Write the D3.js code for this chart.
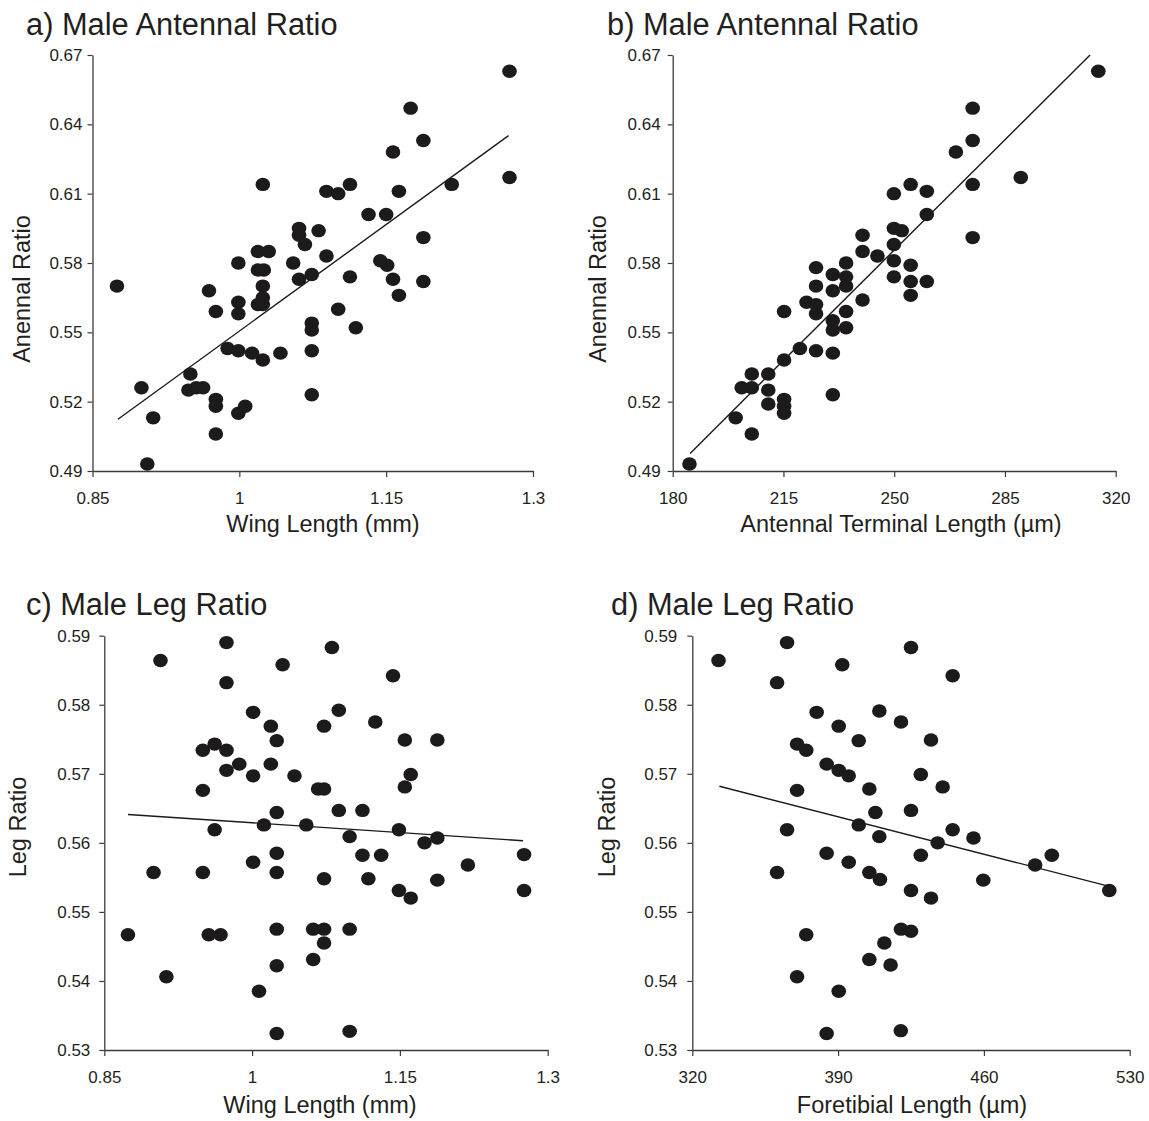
<!DOCTYPE html>
<html><head><meta charset="utf-8">
<script src="https://cdn.jsdelivr.net/npm/d3@7"></script>
<style>
body{margin:0;background:#fff}
svg{display:block}
text{font-family:"Liberation Sans",Arial,Helvetica,sans-serif;fill:#231f20}
.tick text{font-size:17px}
</style>
</head><body>
<svg id="chart" width="1149" height="1121"></svg>
<script>
// ---------- Data ----------
// Panel a: Wing length (mm) vs antennal ratio
const aWing = [0.875,0.900,0.912,0.906,0.950,0.948,0.956,0.963,0.969,0.976,0.976,0.976,0.976,0.988,0.999,0.999,0.999,0.999,0.999,1.006,1.013,1.024,1.019,1.030,1.019,1.025,1.024,1.024,1.019,1.024,1.024,1.042,1.055,1.061,1.061,1.067,1.061,1.074,1.081,1.074,1.074,1.074,1.074,1.276,1.175,1.188,1.157,1.276,1.217,1.113,1.089,1.101,1.163,1.132,1.150,1.089,1.188,1.144,1.151,1.113,1.157,1.188,1.163,1.101,1.119];
const aRatio = [0.570,0.526,0.513,0.493,0.532,0.525,0.526,0.526,0.568,0.559,0.521,0.518,0.506,0.543,0.580,0.563,0.558,0.542,0.515,0.518,0.541,0.614,0.585,0.585,0.577,0.577,0.570,0.565,0.562,0.562,0.538,0.541,0.580,0.595,0.592,0.588,0.573,0.575,0.594,0.554,0.551,0.542,0.523,0.663,0.647,0.633,0.628,0.617,0.614,0.614,0.611,0.610,0.611,0.601,0.601,0.583,0.591,0.581,0.579,0.574,0.573,0.572,0.566,0.560,0.552];
const aFitX = [0.876, 1.275];
const aFitY = [0.5124, 0.6351];

// Panel b: Antennal terminal length (µm) vs antennal ratio
const bTerminal = [185.3,199.9,205.0,201.8,205.0,205.0,210.2,210.2,210.2,215.2,215.2,215.2,215.2,215.2,220.2,222.3,225.3,225.3,225.3,225.3,225.3,230.6,230.6,230.6,230.6,230.6,230.6,234.8,234.8,234.8,234.8,234.8,240.0,240.0,240.0,244.7,249.9,249.9,252.4,249.9,249.9,249.9,255.2,255.2,255.2,255.2,260.3,260.3,260.3,269.5,274.8,274.8,274.8,274.8,290.0,314.5];
const bRatio = [0.493,0.513,0.506,0.526,0.526,0.532,0.532,0.525,0.519,0.521,0.518,0.515,0.538,0.559,0.543,0.563,0.578,0.570,0.562,0.558,0.542,0.575,0.568,0.555,0.551,0.541,0.523,0.580,0.574,0.570,0.559,0.552,0.592,0.585,0.564,0.583,0.610,0.595,0.594,0.588,0.581,0.574,0.614,0.579,0.572,0.566,0.611,0.601,0.572,0.628,0.647,0.633,0.614,0.591,0.617,0.663];
const bFitX = [185.5, 311.9];
const bFitY = [0.4976, 0.670];

// Panel c: Wing length (mm) vs leg ratio
const cWing = [0.874,0.907,0.900,0.913,0.950,0.950,0.950,0.956,0.962,0.962,0.968,0.974,0.974,0.974,0.974,0.987,1.001,1.001,1.001,1.007,1.019,1.019,1.025,1.025,1.012,1.025,1.025,1.025,1.025,1.025,1.031,1.043,1.055,1.062,1.062,1.081,1.143,1.088,1.073,1.125,1.155,1.188,1.161,1.155,1.067,1.073,1.088,1.112,1.099,1.149,1.175,1.188,1.112,1.131,1.276,1.219,1.073,1.118,1.188,1.149,1.161,1.276,1.073,1.099,1.073,1.099];
const cLeg = [0.5467,0.5864,0.5557,0.5406,0.5734,0.5676,0.5557,0.5467,0.5743,0.5619,0.5467,0.5890,0.5832,0.5734,0.5705,0.5714,0.5789,0.5697,0.5572,0.5385,0.5769,0.5714,0.5748,0.5644,0.5626,0.5585,0.5557,0.5475,0.5422,0.5324,0.5858,0.5697,0.5626,0.5475,0.5431,0.5883,0.5842,0.5792,0.5769,0.5775,0.5749,0.5749,0.5699,0.5681,0.5678,0.5678,0.5647,0.5647,0.5609,0.5619,0.5600,0.5607,0.5582,0.5582,0.5583,0.5568,0.5548,0.5548,0.5546,0.5531,0.5520,0.5531,0.5475,0.5475,0.5455,0.5327];
const cFitX = [0.874, 1.275];
const cFitY = [0.5641, 0.5603];

// Panel d: Foretibial length (µm) vs leg ratio
const dTibia = [332.6,365.5,360.7,392.0,379.7,409.8,390.3,399.9,370.3,374.7,384.5,390.3,395.1,370.3,405.0,407.9,399.9,365.5,409.8,384.5,395.1,360.7,405.0,410.1,374.7,370.3,390.3,384.5,405.0,412.2,415.2,425.0,445.0,420.2,434.6,429.7,440.2,425.0,445.0,437.8,455.0,429.7,492.6,484.6,459.7,425.0,434.6,520.2,420.2,425.0,420.1];
const dLeg = [0.5864,0.5890,0.5832,0.5858,0.5789,0.5791,0.5769,0.5748,0.5743,0.5734,0.5714,0.5705,0.5697,0.5676,0.5678,0.5644,0.5626,0.5619,0.5609,0.5585,0.5572,0.5557,0.5557,0.5547,0.5467,0.5406,0.5385,0.5324,0.5431,0.5455,0.5423,0.5883,0.5842,0.5775,0.5749,0.5699,0.5681,0.5647,0.5619,0.5600,0.5607,0.5582,0.5582,0.5568,0.5546,0.5531,0.5520,0.5531,0.5475,0.5472,0.5328];
const dFitX = [333.0, 520.2];
const dFitY = [0.5682, 0.5537];

// Tick labels
const wingTicks = ["0.85","1","1.15","1.3"];
const terminalTicks = ["180","215","250","285","320"];
const tibiaTicks = ["320","390","460","530"];
const antRatioTicks = ["0.49","0.52","0.55","0.58","0.61","0.64","0.67"];
const legRatioTicks = ["0.53","0.54","0.55","0.56","0.57","0.58","0.59"];

// ---------- Layout ----------
const panels = [
  {title:"a) Male Antennal Ratio", tx:26, ty:35, xs:aWing, ys:aRatio, fx:aFitX, fy:aFitY,
   xt:wingTicks, yt:antRatioTicks, L:92.5, R:533, T:55, B:471,
   xl:"Wing Length (mm)", xlx:323, xly:532, yl:"Anennal Ratio", ylx:30, yly:289, ypad:5},
  {title:"b) Male Antennal Ratio", tx:607, ty:35, xs:bTerminal, ys:bRatio, fx:bFitX, fy:bFitY,
   xt:terminalTicks, yt:antRatioTicks, L:672.7, R:1115.7, T:55, B:471,
   xl:"Antennal Terminal Length (\u00b5m)", xlx:901, xly:532, yl:"Anennal Ratio", ylx:606, yly:289, ypad:7},
  {title:"c) Male Leg Ratio", tx:26, ty:615, xs:cWing, ys:cLeg, fx:cFitX, fy:cFitY,
   xt:wingTicks, yt:legRatioTicks, L:104.3, R:547.7, T:635.7, B:1050,
   xl:"Wing Length (mm)", xlx:320, xly:1113, yl:"Leg Ratio", ylx:26, yly:827, ypad:9},
  {title:"d) Male Leg Ratio", tx:611, ty:615, xs:dTibia, ys:dLeg, fx:dFitX, fy:dFitY,
   xt:tibiaTicks, yt:legRatioTicks, L:692.3, R:1129.7, T:635.7, B:1050,
   xl:"Foretibial Length (\u00b5m)", xlx:912, xly:1113, yl:"Leg Ratio", ylx:615, yly:827, ypad:10}
];

const svg = d3.select("#chart");
svg.append("rect").attr("width",1149).attr("height",1121).attr("fill","#fff");

panels.forEach(p => {
  const xv = p.xt.map(Number), yv = p.yt.map(Number);
  const x = d3.scaleLinear().domain([xv[0], xv[xv.length-1]]).range([p.L, p.R]);
  const y = d3.scaleLinear().domain([yv[0], yv[yv.length-1]]).range([p.B, p.T]);
  const g = svg.append("g");

  // title
  g.append("text").attr("x",p.tx).attr("y",p.ty).style("font-size","30.8px").text(p.title);

  // x axis
  const gx = g.append("g").attr("transform",`translate(0,${p.B})`)
    .call(d3.axisBottom(x).tickValues(xv).tickFormat((d,i)=>p.xt[i]).tickSize(6).tickSizeOuter(0).tickPadding(14.5));
  // y axis
  const gy = g.append("g").attr("transform",`translate(${p.L},0)`)
    .call(d3.axisLeft(y).tickValues(yv).tickFormat((d,i)=>p.yt[i]).tickSize(5).tickSizeOuter(0).tickPadding(p.ypad));
  [gx,gy].forEach(a => {
    a.attr("font-family",null).attr("font-size",null);
    a.select(".domain").attr("stroke","#3a3a3a").attr("stroke-width",1.3);
    a.selectAll(".tick line").attr("stroke","#3a3a3a").attr("stroke-width",1.2);
    a.selectAll(".tick text").attr("fill","#231f20")
      .style("font-size","17px")
      .style("font-family",'"Liberation Sans",Arial,sans-serif');
  });

  // axis titles
  g.append("text").attr("x",p.xlx).attr("y",p.xly).attr("text-anchor","middle")
    .style("font-size","23.5px").text(p.xl);
  g.append("text").attr("transform",`translate(${p.ylx},${p.yly}) rotate(-90)`)
    .attr("text-anchor","middle").style("font-size","23.5px").text(p.yl);

  // fit line
  g.append("line")
    .attr("x1",x(p.fx[0])).attr("y1",y(p.fy[0]))
    .attr("x2",x(p.fx[1])).attr("y2",y(p.fy[1]))
    .attr("stroke","#1a1a1a").attr("stroke-width",1.4);

  // points
  g.append("g").selectAll("ellipse").data(p.xs.map((v,i)=>[v,p.ys[i]])).join("ellipse")
    .attr("cx",d=>x(d[0])).attr("cy",d=>y(d[1]))
    .attr("rx",7.3).attr("ry",6.7).attr("fill","#1c1a1b");
});
</script>
</body></html>
